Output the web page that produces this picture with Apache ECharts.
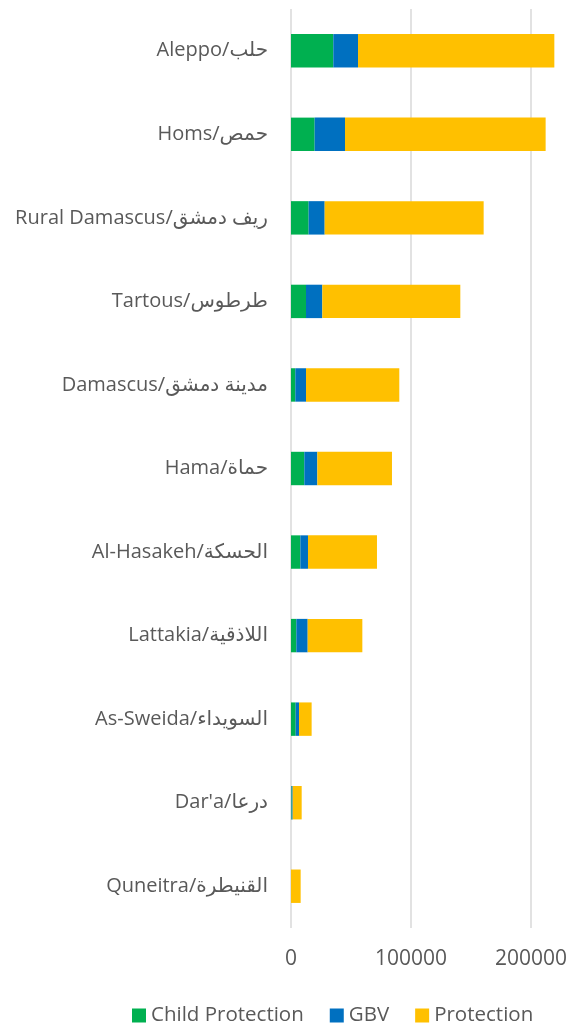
<!DOCTYPE html>
<html>
<head>
<meta charset="utf-8">
<script src="https://cdn.jsdelivr.net/npm/echarts@6/dist/echarts.min.js"></script>
<style>
  html, body { margin: 0; padding: 0; background: #fff; }
  #chart { width: 569px; height: 1023px; }
</style>
</head>
<body>
<div id="chart"></div>
<script>
const categories = [
  "Aleppo/حلب",
  "Homs/حمص",
  "Rural Damascus/ريف دمشق",
  "Tartous/طرطوس",
  "Damascus/مدينة دمشق",
  "Hama/حماة",
  "Al-Hasakeh/الحسكة",
  "Lattakia/اللاذقية",
  "As-Sweida/السويداء",
  "Dar'a/درعا",
  "Quneitra/القنيطرة",
];
const childProtection = [35250, 19700, 14700, 12500, 3600, 11100, 7800, 4450, 3900, 500, 0];
const gbv = [20600, 25300, 13350, 13600, 8900, 10850, 6350, 9450, 2750, 900, 0];
const protection = [163600, 167200, 132500, 115000, 77750, 62200, 57500, 45550, 10550, 7500, 8050];
const xTicks = [0, 100000, 200000, 300000];

const chart = echarts.init(document.getElementById("chart"));
const textColor = "#595959";
const font = "'Open Sans', 'DejaVu Sans', sans-serif";

const makeSeries = (name, data, color) => ({
  name: name,
  type: "bar",
  stack: "total",
  barCategoryGap: "60%",
  itemStyle: { color: color },
  data: data,
});

const option = {
  animation: false,
  textStyle: { fontFamily: font },
  grid: {
    left: 291,
    right: -82,
    top: 9,
    bottom: 95,
    containLabel: false,
    outerBoundsMode: "none",
  },
  legend: {
    left: 127,
    top: 1000,
    icon: "rect",
    itemWidth: 14,
    itemHeight: 14,
    itemGap: 26,
    textStyle: { color: textColor, fontSize: 20.5, fontFamily: font },
    data: ["Child Protection", "GBV", "Protection"],
  },
  xAxis: {
    type: "value",
    min: xTicks[0],
    max: xTicks[xTicks.length - 1],
    interval: xTicks[1] - xTicks[0],
    axisLine: { show: false },
    axisTick: { show: false },
    axisLabel: {
      color: textColor,
      fontSize: 21,
      margin: 21,
      fontFamily: font,
      formatter: (v) => String(v),
    },
    splitLine: { lineStyle: { color: "#d9d9d9", width: 1.5 } },
  },
  yAxis: {
    type: "category",
    inverse: true,
    data: categories,
    axisLine: { show: false },
    axisTick: { show: false },
    axisLabel: { color: textColor, fontSize: 20, margin: 23, fontFamily: font },
  },
  series: [
    makeSeries("Child Protection", childProtection, "#00b050"),
    makeSeries("GBV", gbv, "#0070c0"),
    makeSeries("Protection", protection, "#ffc000"),
  ],
};
chart.setOption(option);
</script>
</body>
</html>
